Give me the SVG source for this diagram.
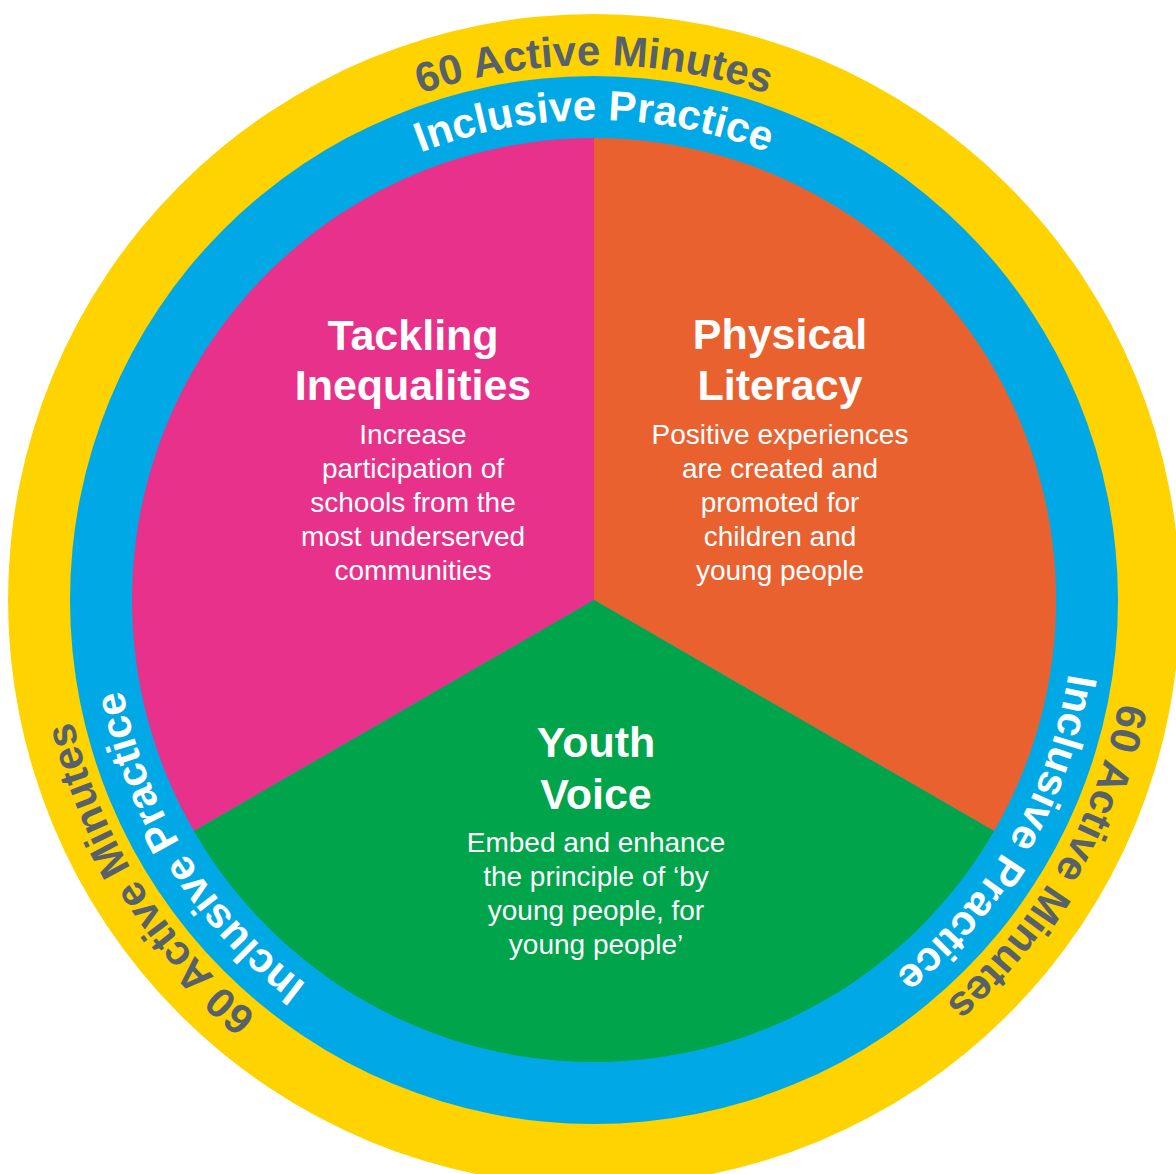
<svg xmlns="http://www.w3.org/2000/svg" xmlns:xlink="http://www.w3.org/1999/xlink" width="1176" height="1174" viewBox="0 0 1176 1174">
  <style>
    text { font-family: "Liberation Sans", Arial, Helvetica, sans-serif; }
    .ring-y { font-size: 42px; font-weight: bold; fill: #56616c; }
    .ring-b { font-size: 42px; font-weight: bold; fill: #ffffff; }
    .title { font-size: 43px; font-weight: bold; fill: #ffffff; text-anchor: middle; }
    .body { font-size: 28px; fill: #ffffff; text-anchor: middle; }
  </style>
  <defs>
    <path id="pYTop" d="M59,600 A535,535 0 0 1 594,65 A535,535 0 0 1 1129,600" fill="none"/>
    <path id="pBTop" d="M114,600 A480,480 0 0 1 594,120 A480,480 0 0 1 1074,600" fill="none"/>
    <path id="pYRight" d="M861.5,136.7 A535,535 0 0 1 1057.3,867.5 A535,535 0 0 1 326.5,1063.3" fill="none"/>
    <path id="pBRight" d="M834,184.3 A480,480 0 0 1 1009.7,840 A480,480 0 0 1 354,1015.7" fill="none"/>
    <path id="pYLeft" d="M877.5,1053.7 A535,535 0 0 1 140.3,883.5 A535,535 0 0 1 310.5,146.3" fill="none"/>
    <path id="pBLeft" d="M848.4,1007 A480,480 0 0 1 187,854.4 A480,480 0 0 1 339.6,193" fill="none"/>
  </defs>
  <rect width="1176" height="1174" fill="#ffffff"/>

  <g id="ring-active-minutes">
    <circle cx="594" cy="600" r="586" fill="#ffd300"/>
    <text class="ring-y"><textPath xlink:href="#pYTop" href="#pYTop" startOffset="50%" text-anchor="middle">60 Active Minutes</textPath></text>
    <text class="ring-y"><textPath xlink:href="#pYRight" href="#pYRight" startOffset="50%" text-anchor="middle">60 Active Minutes</textPath></text>
    <text class="ring-y"><textPath xlink:href="#pYLeft" href="#pYLeft" startOffset="50%" text-anchor="middle">60 Active Minutes</textPath></text>
  </g>

  <g id="ring-inclusive-practice">
    <circle cx="594" cy="600" r="524" fill="#00a9e6"/>
    <text class="ring-b"><textPath xlink:href="#pBTop" href="#pBTop" startOffset="50%" text-anchor="middle">Inclusive Practice</textPath></text>
    <text class="ring-b"><textPath xlink:href="#pBRight" href="#pBRight" startOffset="50%" text-anchor="middle">Inclusive Practice</textPath></text>
    <text class="ring-b"><textPath xlink:href="#pBLeft" href="#pBLeft" startOffset="50%" text-anchor="middle">Inclusive Practice</textPath></text>
  </g>

  <g id="tackling-inequalities">
    <path d="M594,600 L594,138 A462,462 0 0 0 193.9,831 Z" fill="#e8318a"/>
    <text class="title" x="413" y="350">Tackling</text>
    <text class="title" x="413" y="400">Inequalities</text>
    <text class="body" x="413" y="444">Increase</text>
    <text class="body" x="413" y="478">participation of</text>
    <text class="body" x="413" y="512">schools from the</text>
    <text class="body" x="413" y="546">most underserved</text>
    <text class="body" x="413" y="580">communities</text>
  </g>

  <g id="physical-literacy">
    <path d="M594,600 L594,138 A462,462 0 0 1 994.1,831 Z" fill="#ea6130"/>
    <text class="title" x="780" y="349">Physical</text>
    <text class="title" x="780" y="400">Literacy</text>
    <text class="body" x="780" y="444">Positive experiences</text>
    <text class="body" x="780" y="478">are created and</text>
    <text class="body" x="780" y="512">promoted for</text>
    <text class="body" x="780" y="546">children and</text>
    <text class="body" x="780" y="580">young people</text>
  </g>

  <g id="youth-voice">
    <path d="M594,600 L994.1,831 A462,462 0 0 1 193.9,831 Z" fill="#00a44a"/>
    <text class="title" x="596" y="757">Youth</text>
    <text class="title" x="596" y="809">Voice</text>
    <text class="body" x="596" y="852">Embed and enhance</text>
    <text class="body" x="596" y="886">the principle of ‘by</text>
    <text class="body" x="596" y="920">young people, for</text>
    <text class="body" x="596" y="954">young people’</text>
  </g>

  <g id="connectors"></g>
</svg>
